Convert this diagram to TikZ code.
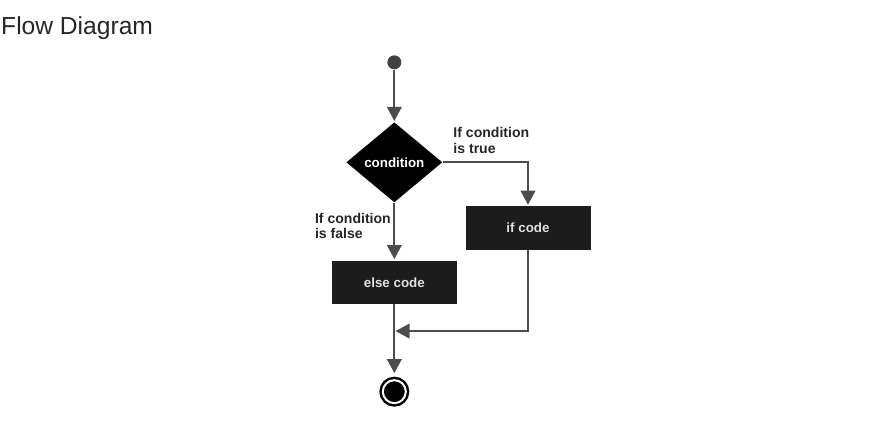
\documentclass[tikz,border=0pt]{standalone}
\usepackage{fontspec}
\setmainfont{Liberation Sans}
\usetikzlibrary{arrows.meta,positioning,shapes.geometric}
\definecolor{linegray}{HTML}{4D4D4D}
\definecolor{boxblack}{HTML}{1C1C1C}
\tikzset{
	>={Triangle[length=12pt,width=12.5pt]}, % big filled heads
	flow/.style={->, draw=linegray, line width=1.7pt, shorten >=1pt},
	node distance=3cm,
	on grid,
	initstate/.style={circle, fill=linegray!85!black, minimum size=0.42cm, inner sep=0pt},
	decision/.style={diamond, fill=black, minimum width=2.88cm, minimum height=2.4cm, inner sep=0pt, text=white, font=\bfseries\fontsize{11.4}{13}\selectfont},
	codebox/.style={rectangle, fill=boxblack, minimum width=3.75cm, minimum height=1.31cm, inner sep=0pt, text=white!88!black, font=\bfseries\fontsize{11.4}{13}\selectfont},
	finalstate/.style={circle, fill=black, draw=black, double=white, double distance=1.7pt, line width=2.1pt, minimum size=0.69cm, inner sep=0pt},
	branchlabel/.style={align=left, inner sep=0pt, text=black!85, font=\bfseries\fontsize{12}{13.2}\selectfont},
}

\begin{document}
\begin{tikzpicture}
      \useasboundingbox (0,0) rectangle (26.13,-13.05);
      \node[anchor=base west, inner sep=0pt, text=black!85, font=\fontsize{21}{25}\selectfont] (title) at (0.03,-1.05) {Flow Diagram};

      \node[initstate] (start) at (11.83,-1.87) {};
      \node[decision, below=3cm of start] (cond) {condition};
      \node[codebox, below right=1.97cm and 4.01cm of cond] (ifcode) {if code};
      \node[codebox, below=3.6cm of cond] (elsecode) {else code};
      \node[finalstate, below=3.28cm of elsecode] (end) {};
      \coordinate[below=0.8cm of elsecode.south] (join);

      \node[branchlabel, anchor=north west, xshift=0.32cm, yshift=1.056cm] (truelbl) at (cond.east) {If condition\\is true};
      \node[branchlabel, anchor=north east, xshift=-0.1cm, yshift=-0.315cm] (falselbl) at (cond.south) {If condition\\is false};

      \draw[flow] (start) -- (cond);
      \draw[flow] (cond.east) -| (ifcode);
      \draw[flow] (cond) -- (elsecode);
      \draw[flow, shorten >=5pt] (elsecode) -- (end);
      \draw[flow] (ifcode.south) |- (join);
\end{tikzpicture}
\end{document}
